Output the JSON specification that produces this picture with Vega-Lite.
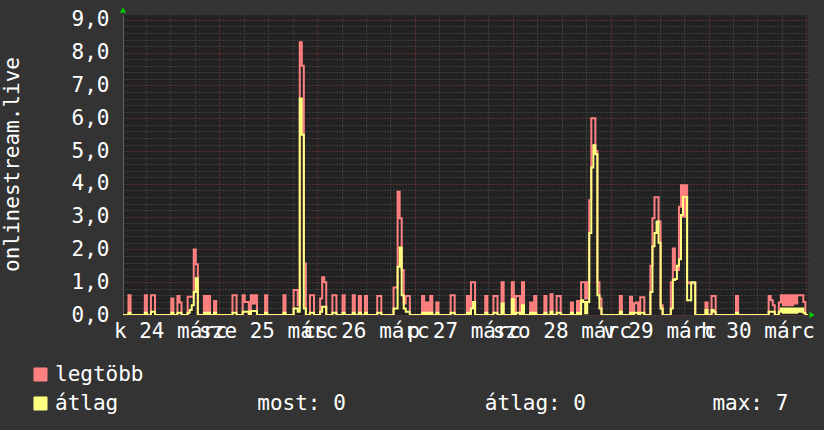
{
"$schema":"https://vega.github.io/schema/vega-lite/v6.json",
"width":685,"height":300,
"autosize":{"type":"none"},
"padding":{"left":123,"top":15,"right":16,"bottom":115},
"background":"#333333",
"config":{"view":{"fill":"#222222","stroke":null},"font":"DejaVu Sans Mono"},
"resolve":{"axis":{"x":"independent","y":"independent"}},
"data":{"values":[
{"t":0.4,"mx":0,"av":0},{"t":1.5,"mx":0,"av":0},{"t":2,"mx":0.6,"av":0.07},{"t":2.5,"mx":0,"av":0},{"t":5.5,"mx":0,"av":0},{"t":6,"mx":0.6,"av":0.07},{"t":6.5,"mx":0,"av":0},{"t":7,"mx":0,"av":0},{"t":7.5,"mx":0.6,"av":0.1},{"t":8,"mx":0.6,"av":0.1},{"t":8.5,"mx":0,"av":0},
{"t":12,"mx":0,"av":0},{"t":12.5,"mx":0.5,"av":0.07},{"t":13,"mx":0,"av":0},{"t":13.5,"mx":0,"av":0},{"t":14,"mx":0.58,"av":0.07},{"t":14.5,"mx":0.38,"av":0.07},{"t":15,"mx":0,"av":0},{"t":16,"mx":0,"av":0},{"t":16.5,"mx":0.56,"av":0.07},{"t":17,"mx":0.56,"av":0.15},{"t":17.5,"mx":0.56,"av":0.3},{"t":18,"mx":2.0,"av":0.7},{"t":18.5,"mx":1.55,"av":1.12},{"t":19,"mx":0,"av":0},
{"t":20,"mx":0,"av":0},{"t":20.5,"mx":0.58,"av":0.07},{"t":21,"mx":0,"av":0},{"t":21.5,"mx":0.58,"av":0.07},{"t":22,"mx":0,"av":0},{"t":22.5,"mx":0,"av":0},{"t":23,"mx":0.43,"av":0.07},{"t":23.5,"mx":0,"av":0},
{"t":27,"mx":0,"av":0},{"t":27.5,"mx":0.6,"av":0.07},{"t":28,"mx":0.6,"av":0.07},{"t":28.5,"mx":0,"av":0},{"t":29.5,"mx":0,"av":0},{"t":30,"mx":0.6,"av":0.1},{"t":30.5,"mx":0.4,"av":0.1},{"t":31,"mx":0.4,"av":0.1},{"t":31.5,"mx":0,"av":0},{"t":32,"mx":0.6,"av":0.12},{"t":32.5,"mx":0.35,"av":0.12},{"t":33,"mx":0.6,"av":0.12},{"t":33.5,"mx":0,"av":0},
{"t":35,"mx":0,"av":0},{"t":35.5,"mx":0.6,"av":0.07},{"t":36,"mx":0,"av":0},{"t":39.5,"mx":0,"av":0},{"t":40,"mx":0.6,"av":0.07},{"t":40.5,"mx":0,"av":0},
{"t":42,"mx":0,"av":0},{"t":42.5,"mx":0.76,"av":0.2},{"t":43,"mx":0.76,"av":0.2},{"t":43.5,"mx":0.3,"av":0.1},{"t":44,"mx":8.32,"av":6.6},{"t":44.5,"mx":7.6,"av":5.5},{"t":45,"mx":1.57,"av":0.2},{"t":45.5,"mx":0,"av":0},
{"t":46,"mx":0,"av":0},{"t":46.5,"mx":0.6,"av":0.07},{"t":47,"mx":0.6,"av":0.07},{"t":47.5,"mx":0,"av":0},{"t":48.5,"mx":0,"av":0},{"t":49,"mx":0.5,"av":0.1},{"t":49.5,"mx":1.15,"av":0.25},{"t":50,"mx":1.0,"av":0.25},{"t":50.5,"mx":0,"av":0},
{"t":51.5,"mx":0,"av":0},{"t":52,"mx":0.6,"av":0.07},{"t":52.5,"mx":0.6,"av":0.07},{"t":53,"mx":0,"av":0},{"t":54,"mx":0,"av":0},{"t":54.5,"mx":0.6,"av":0.07},{"t":55,"mx":0,"av":0},{"t":56.5,"mx":0,"av":0},{"t":57,"mx":0.6,"av":0.07},{"t":57.5,"mx":0,"av":0},{"t":58,"mx":0,"av":0},{"t":58.5,"mx":0.58,"av":0.07},{"t":59,"mx":0,"av":0},{"t":59.5,"mx":0,"av":0},{"t":60,"mx":0.58,"av":0.07},{"t":60.5,"mx":0,"av":0},
{"t":62.5,"mx":0,"av":0},{"t":63,"mx":0.58,"av":0.07},{"t":63.5,"mx":0.58,"av":0.07},{"t":64,"mx":0,"av":0},
{"t":66.5,"mx":0,"av":0},{"t":67,"mx":0.84,"av":0.2},{"t":67.5,"mx":0.84,"av":0.2},{"t":68,"mx":3.76,"av":1.47},{"t":68.5,"mx":2.95,"av":2.06},{"t":69,"mx":1.37,"av":0.6},{"t":69.5,"mx":0.35,"av":0.2},{"t":70,"mx":0.58,"av":0.1},{"t":70.5,"mx":0.58,"av":0.1},{"t":71,"mx":0,"av":0},
{"t":73.5,"mx":0,"av":0},{"t":74,"mx":0.58,"av":0.07},{"t":74.5,"mx":0,"av":0},{"t":75,"mx":0.38,"av":0.07},{"t":75.5,"mx":0,"av":0},{"t":76,"mx":0.58,"av":0.07},{"t":76.5,"mx":0,"av":0},{"t":77,"mx":0,"av":0},{"t":77.5,"mx":0.38,"av":0.07},{"t":78,"mx":0,"av":0},
{"t":80.5,"mx":0,"av":0},{"t":81,"mx":0.6,"av":0.07},{"t":81.5,"mx":0.6,"av":0.07},{"t":82,"mx":0,"av":0},
{"t":84.5,"mx":0,"av":0},{"t":85,"mx":0.58,"av":0.07},{"t":85.5,"mx":0,"av":0},{"t":86,"mx":1.0,"av":0.2},{"t":86.5,"mx":1.0,"av":0.4},{"t":87,"mx":0,"av":0},
{"t":89,"mx":0,"av":0},{"t":89.5,"mx":0.58,"av":0.07},{"t":90,"mx":0,"av":0},{"t":91,"mx":0,"av":0},{"t":91.5,"mx":0.58,"av":0.07},{"t":92,"mx":0.58,"av":0.07},{"t":92.5,"mx":0,"av":0},{"t":93,"mx":0,"av":0},{"t":93.5,"mx":1.0,"av":0.35},{"t":94,"mx":0,"av":0},
{"t":95.5,"mx":0,"av":0},{"t":96,"mx":1.0,"av":0.48},{"t":96.5,"mx":0,"av":0},{"t":97,"mx":0.58,"av":0.07},{"t":97.5,"mx":0.58,"av":0.07},{"t":98,"mx":0,"av":0},{"t":98.5,"mx":1.0,"av":0.3},{"t":99,"mx":0,"av":0},
{"t":100,"mx":0,"av":0},{"t":100.5,"mx":0.38,"av":0.07},{"t":101,"mx":0,"av":0},{"t":101.5,"mx":0.58,"av":0.07},{"t":102,"mx":0,"av":0},{"t":103.5,"mx":0,"av":0},{"t":104,"mx":0.58,"av":0.07},{"t":104.5,"mx":0,"av":0},{"t":105,"mx":0,"av":0},{"t":105.5,"mx":0.63,"av":0.1},{"t":106,"mx":0,"av":0},{"t":106.5,"mx":0,"av":0},{"t":107,"mx":0.58,"av":0.07},{"t":107.5,"mx":0.58,"av":0.07},{"t":108,"mx":0,"av":0},
{"t":110,"mx":0,"av":0},{"t":110.5,"mx":0.38,"av":0.07},{"t":111,"mx":0,"av":0},{"t":111.5,"mx":0,"av":0},{"t":112,"mx":0.43,"av":0.07},{"t":112.5,"mx":0,"av":0},{"t":113,"mx":1.0,"av":0.45},{"t":113.5,"mx":1.0,"av":0.4},{"t":114,"mx":0.5,"av":0.05},{"t":114.5,"mx":1.0,"av":0.4},{"t":115,"mx":3.5,"av":2.5},{"t":115.5,"mx":6.0,"av":4.5},{"t":116,"mx":6.0,"av":5.18},{"t":116.5,"mx":5.0,"av":4.9},{"t":117,"mx":1.0,"av":0.6},{"t":117.5,"mx":0.5,"av":0.2},{"t":118,"mx":0,"av":0},
{"t":122,"mx":0,"av":0},{"t":122.5,"mx":0.58,"av":0.1},{"t":123,"mx":0,"av":0},{"t":124.5,"mx":0,"av":0},{"t":125,"mx":0.56,"av":0.07},{"t":125.5,"mx":0.1,"av":0.02},{"t":126,"mx":0.36,"av":0.07},{"t":126.5,"mx":0.38,"av":0.07},{"t":127,"mx":0.1,"av":0.02},{"t":127.5,"mx":0.54,"av":0.07},{"t":128,"mx":0.54,"av":0.07},{"t":128.5,"mx":0,"av":0},
{"t":129.5,"mx":0,"av":0},{"t":130,"mx":1.5,"av":0.7},{"t":130.5,"mx":2.95,"av":2.1},{"t":131,"mx":3.59,"av":2.5},{"t":131.5,"mx":3.59,"av":2.85},{"t":132,"mx":2.85,"av":2.2},{"t":132.5,"mx":0.3,"av":0.2},{"t":133,"mx":0,"av":0},
{"t":134.5,"mx":0,"av":0},{"t":135,"mx":1.0,"av":0.2},{"t":135.5,"mx":2.03,"av":1.07},{"t":136,"mx":1.37,"av":1.1},{"t":136.5,"mx":1.37,"av":1.5},{"t":137,"mx":3.3,"av":1.7},{"t":137.5,"mx":3.96,"av":3.05},{"t":138,"mx":3.0,"av":3.6},{"t":138.5,"mx":3.96,"av":3.6},{"t":139,"mx":1.0,"av":0.45},{"t":139.5,"mx":0.97,"av":0.45},{"t":140,"mx":0.97,"av":1.0},{"t":140.5,"mx":0.97,"av":1.0},{"t":141,"mx":0,"av":0},
{"t":143,"mx":0,"av":0},{"t":143.5,"mx":0.38,"av":0.15},{"t":144,"mx":0,"av":0},{"t":144.5,"mx":0,"av":0},{"t":145,"mx":0.58,"av":0.15},{"t":145.5,"mx":0.58,"av":0.1},{"t":146,"mx":0,"av":0},
{"t":150.5,"mx":0,"av":0},{"t":151,"mx":0.58,"av":0.07},{"t":151.5,"mx":0,"av":0},
{"t":158.5,"mx":0,"av":0},{"t":159,"mx":0.58,"av":0.1},{"t":159.5,"mx":0.45,"av":0.1},{"t":160,"mx":0.3,"av":0.1},{"t":160.5,"mx":0,"av":0},{"t":161,"mx":0,"av":0},{"t":161.5,"mx":0.38,"av":0.1},{"t":162,"mx":0.6,"av":0.2},{"t":162.5,"mx":0.3,"av":0.07},{"t":163,"mx":0.6,"av":0.2},{"t":163.5,"mx":0.3,"av":0.07},{"t":164,"mx":0.6,"av":0.2},{"t":164.5,"mx":0.3,"av":0.07},{"t":165,"mx":0.6,"av":0.2},{"t":165.5,"mx":0.35,"av":0.07},{"t":166,"mx":0.6,"av":0.2},{"t":166.5,"mx":0.6,"av":0.1},{"t":167,"mx":0.6,"av":0.2},{"t":167.5,"mx":0.4,"av":0.07},{"t":168,"mx":0,"av":0},{"t":168.4,"mx":0,"av":0}
]},
"layer":[
{"transform":[{"fold":["mx","av"],"as":["key","value"]}],
 "mark":{"type":"line","interpolate":"step","strokeWidth":2,"clip":true},
 "encoding":{
  "x":{"field":"t","type":"quantitative","scale":{"domain":[0.4,168.4],"nice":false,"zero":false},
   "axis":{"title":null,"values":[6,12,18,24,30,36,42,48,54,60,66,72,78,84,90,96,102,108,114,120,126,132,138,144,150,156,162,168],
    "labelExpr":"datum.value==12?'k 24 márc':datum.value==36?'sze 25 márc':datum.value==60?'cs 26 márc':datum.value==84?'p 27 márc':datum.value==108?'szo 28 márc':datum.value==132?'v 29 márc':datum.value==156?'h 30 márc':''",
    "labelFont":"DejaVu Sans Mono","labelFontSize":21,"labelColor":"#ffffff","labelOverlap":false,"labelFlush":false,"labelPadding":5,"ticks":false,"domain":false,
    "grid":true,"gridColor":{"condition":{"test":"datum.value % 24 === 0","value":"#8c3c3c"},"value":"#575757"},"gridDash":[1,2],"gridWidth":1}},
  "y":{"field":"value","type":"quantitative","scale":{"domain":[0,9.15],"nice":false},
   "axis":{"values":[0,0.2,0.4,0.6,0.8,1,1.2,1.4,1.6,1.8,2,2.2,2.4,2.6,2.8,3,3.2,3.4,3.6,3.8,4,4.2,4.4,4.6,4.8,5,5.2,5.4,5.6,5.8,6,6.2,6.4,6.6,6.8,7,7.2,7.4,7.6,7.8,8,8.2,8.4,8.6,8.8,9],
    "labelExpr":"abs(datum.value-round(datum.value))<0.001 ? replace(format(datum.value,'.1f'),'.',',') : ''",
    "labelFont":"DejaVu Sans Mono","labelFontSize":21,"labelColor":"#ffffff","labelPadding":14,"labelOverlap":false,"labelFlush":false,"ticks":false,
    "domain":true,"domainColor":"#606060",
    "grid":true,"gridColor":{"condition":{"test":"abs(datum.value-round(datum.value))<0.001","value":"#8c3c3c"},"value":"#575757"},"gridDash":[1,2],"gridWidth":1,
    "title":"onlinestream.live","titleFont":"DejaVu Sans Mono","titleFontSize":21,"titleFontWeight":"normal","titleColor":"#ffffff",
    "titleX":-111,"titleY":149,"titleAngle":-90,"titleAlign":"center","titleBaseline":"middle"}},
  "color":{"field":"key","type":"nominal","scale":{"domain":["mx","av"],"range":["#FF8080","#FFFF80"]},
   "legend":{"orient":"none","legendX":-93,"legendY":349,"direction":"vertical","title":null,"padding":0,
    "symbolType":"square","symbolSize":170,"labelFont":"DejaVu Sans Mono","labelFontSize":21,"labelColor":"#ffffff","labelLimit":2000,"labelOffset":4,"rowPadding":7,
    "labelExpr":"datum.label === 'mx' ? 'legtöbb' : 'átlag\u00a0\u00a0\u00a0\u00a0\u00a0\u00a0\u00a0\u00a0\u00a0\u00a0\u00a0most:\u00a00\u00a0\u00a0\u00a0\u00a0\u00a0\u00a0\u00a0\u00a0\u00a0\u00a0\u00a0átlag:\u00a00\u00a0\u00a0\u00a0\u00a0\u00a0\u00a0\u00a0\u00a0\u00a0\u00a0max:\u00a07'",
    "encode":{"symbols":{"update":{"fill":{"scale":"color","field":"value"},"stroke":{"value":"#000000"},"strokeWidth":{"value":1},"opacity":{"value":1},"fillOpacity":{"value":1}}}}}}
 }},
{"data":{"values":[{}]},"mark":{"type":"point","shape":"triangle-up","filled":true,"color":"#00c800","opacity":1,"size":40,"clip":false},
 "encoding":{"x":{"datum":0.4,"type":"quantitative","axis":null},"y":{"datum":9.3,"type":"quantitative","axis":null}}},
{"data":{"values":[{}]},"mark":{"type":"point","shape":"triangle-right","filled":true,"color":"#00c800","opacity":1,"size":40,"clip":false},
 "encoding":{"x":{"datum":169.4,"type":"quantitative","axis":null},"y":{"datum":0,"type":"quantitative","axis":null}}}
]
}
